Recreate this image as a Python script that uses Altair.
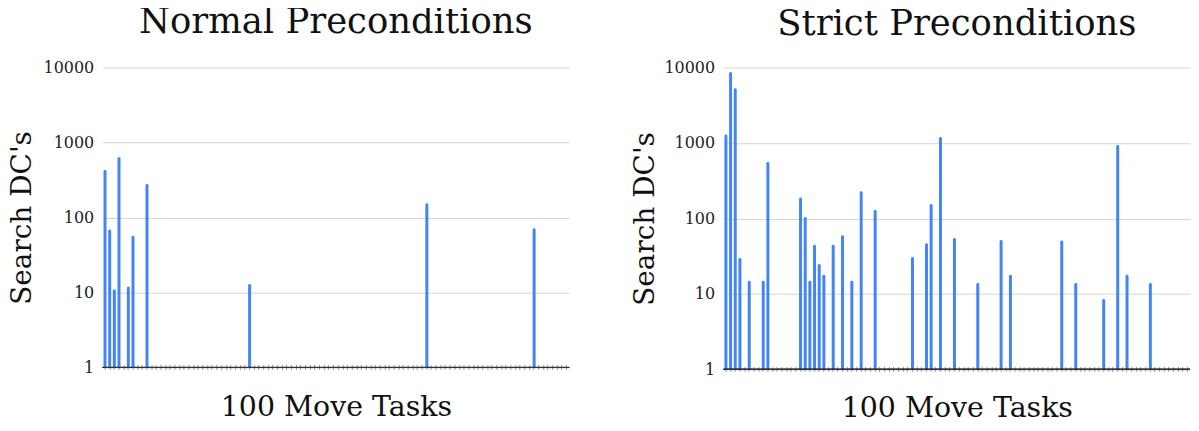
import altair as alt
import pandas as pd

# ---- data ----
TASKS = list(range(1, 101))

normal_task = [1, 2, 3, 4, 6, 7, 10, 32, 70, 93]
normal_dcs = [430, 69, 11, 640, 12, 57, 280, 13, 155, 72]

strict_task = [1, 2, 3, 4, 6, 9, 10, 17, 18, 19, 20, 21, 22, 24, 26, 28, 30, 33,
               41, 44, 45, 47, 50, 55, 60, 62, 73, 76, 82, 85, 87, 92]
strict_dcs = [1300, 8700, 5300, 30, 15, 15, 560, 190, 105, 15, 45, 25, 18, 45, 60, 15, 230, 130,
              31, 47, 155, 1200, 55, 14, 52, 18, 51, 14, 8.6, 940, 18, 14]

y_ticks = [1, 10, 100, 1000, 10000]

FONT = "DejaVu Serif"
BLUE = "#4285F4"


def panel(title, tasks, vals, width, height, title_offset, xpad, ytitlepad):
    df = pd.DataFrame({"task": tasks, "dcs": vals})
    x = alt.X(
        "task:O",
        scale=alt.Scale(domain=TASKS, paddingInner=0, paddingOuter=0),
        axis=alt.Axis(
            title="100 Move Tasks", labels=False, domain=False, ticks=True,
            tickSize=5, tickColor="#999999", offset=-3,
            titleFont=FONT, titleFontSize=28.5, titleFontWeight="normal",
            titleColor="#111111", titlePadding=xpad,
        ),
    )
    y = alt.Y(
        "dcs:Q",
        scale=alt.Scale(type="log", domain=[1, 10000], nice=False),
        axis=alt.Axis(
            title="Search DC's", values=y_ticks, format="d", grid=True,
            gridColor="#d4d4d4", domain=False, ticks=False, labelPadding=9,
            labelOverlap=False, labelFont=FONT, labelFontSize=16,
            labelColor="#222222", titleFont=FONT, titleFontSize=28,
            titleFontWeight="normal", titleColor="#111111", titlePadding=ytitlepad,
        ),
    )
    bars = alt.Chart(df).mark_bar(
        size=3, color=BLUE, cornerRadiusTopLeft=1.5, cornerRadiusTopRight=1.5
    ).encode(x=x, y=y, y2=alt.datum(1))
    base = alt.Chart(df).mark_rule(color="#333333", strokeWidth=1).encode(y=alt.datum(1))
    return alt.layer(bars, base).properties(
        width=width,
        height=height,
        title=alt.TitleParams(
            title, font=FONT, fontSize=35.5, fontWeight="normal",
            color="#111111", offset=title_offset,
        ),
    )


left = panel("Normal Preconditions", normal_task, normal_dcs, 468, 301, 19.4, 23, 7)
right = panel("Strict Preconditions", strict_task, strict_dcs, 468, 303, 16.7, 22, 4)

chart = alt.hconcat(
    left, right, spacing=62,
    padding={"top": -4, "bottom": -5, "left": 0, "right": 0},
).configure_view(stroke=None)

chart.save("out.html", embed_options={"renderer": "svg", "actions": False})
